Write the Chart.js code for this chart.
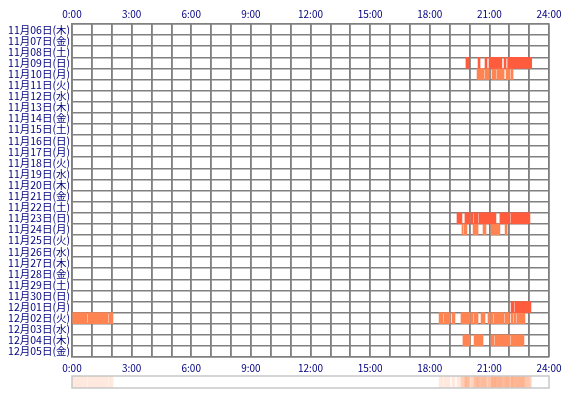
<!DOCTYPE html>
<html><head><meta charset="utf-8">
<script src="https://cdn.jsdelivr.net/npm/chart.js@4"></script>
<style>body{margin:0;background:#fff}#wrap{position:relative;width:570px;height:400px}
#c1{position:absolute;left:0;top:0}#c2{position:absolute;left:0;top:370px}</style></head>
<body><div id="wrap"><canvas id="c1" width="570" height="376"></canvas><canvas id="c2" width="570" height="24"></canvas></div>
<script>
const days=["11月06日(木)","11月07日(金)","11月08日(土)","11月09日(日)","11月10日(月)","11月11日(火)","11月12日(水)","11月13日(木)","11月14日(金)","11月15日(土)","11月16日(日)","11月17日(月)","11月18日(火)","11月19日(水)","11月20日(木)","11月21日(金)","11月22日(土)","11月23日(日)","11月24日(月)","11月25日(火)","11月26日(水)","11月27日(木)","11月28日(金)","11月29日(土)","11月30日(日)","12月01日(月)","12月02日(火)","12月03日(水)","12月04日(木)","12月05日(金)"];
// sessions: [day index, start hour, end hour]
const dark=[
[3,19.82,19.97],[3,20.43,20.53],[3,20.78,20.88],[3,20.98,21.63],[3,21.74,21.84],[3,21.92,23.13],
[17,19.37,19.62],[17,19.77,20.03],[17,20.08,20.18],[17,20.23,20.43],[17,20.48,21.33],[17,21.53,22.04],[17,22.09,23.04],
[25,22.09,22.24],[25,22.29,23.09]];
const light=[
[4,20.38,20.73],[4,20.78,21.0],[4,21.13,21.33],[4,21.38,21.74],[4,21.84,22.04],[4,22.09,22.19],
[18,19.62,19.67],[18,19.72,19.87],[18,20.18,20.43],[18,20.68,20.83],[18,21.08,21.53],[18,21.79,21.89],
[26,0,0.75],[26,0.8,1.81],[26,1.86,2.06],
[26,18.47,18.67],[26,18.72,19.02],[26,19.12,19.27],[26,19.57,20.03],[26,20.08,20.18],[26,20.23,20.43],[26,20.58,20.78],[26,20.93,21.03],[26,21.08,21.18],[26,21.23,21.74],[26,21.79,21.99],[26,22.09,22.19],[26,22.24,22.34],[26,22.39,22.79],
[28,19.67,20.03],[28,20.23,20.68],[28,21.08,21.23],[28,21.28,22.04],[28,22.09,22.74]];
const hourTicks=["0:00","3:00","6:00","9:00","12:00","15:00","18:00","21:00","24:00"];
const font={family:"'Noto Sans CJK JP', sans-serif",size:10};
const tick=v=>v%3===0?hourTicks[v/3]:'';
const toPts=a=>a.map(s=>({y:days[s[0]],x:[s[1],s[2]]}));
const xAx=(pos)=>({type:'linear',position:pos,min:0,max:24,
  ticks:{stepSize:1,autoSkip:false,maxRotation:0,color:'#000080',font,padding:pos==='top'?4:5,callback:tick},
  grid:{color:'#808080',lineWidth:1.6,drawTicks:false},border:{color:'#808080',width:1.6},
  afterFit(s){s.height=pos==='top'?24:19;}});
new Chart(document.getElementById('c1'),{type:'bar',
 data:{labels:days,datasets:[
  {data:toPts(dark),backgroundColor:'#ff5c3e',barPercentage:1,categoryPercentage:1,grouped:false},
  {data:toPts(light),backgroundColor:'#ff8452',barPercentage:1,categoryPercentage:1,grouped:false}]},
 options:{indexAxis:'y',responsive:false,animation:false,
  layout:{padding:{left:0,right:21,top:0,bottom:0}},
  plugins:{legend:{display:false},tooltip:{enabled:false}},
  scales:{x:xAx('top'),x2:xAx('bottom'),
   y:{ticks:{color:'#000080',font:{family:font.family,size:10.5},padding:2,autoSkip:false},grid:{color:'#808080',lineWidth:1.6,drawTicks:false,offset:true},border:{color:'#808080',width:1.6},
    afterFit(s){s.width=72;}}}}});
const all=dark.concat(light);
new Chart(document.getElementById('c2'),{type:'bar',
 data:{labels:['s'],datasets:[{data:all.map(s=>({y:'s',x:[s[1],s[2]]})),backgroundColor:'rgba(255,150,100,0.22)',barPercentage:1,categoryPercentage:1,grouped:false}]},
 options:{indexAxis:'y',responsive:false,animation:false,layout:{padding:{left:72,right:21,top:6,bottom:6}},
  plugins:{legend:{display:false},tooltip:{enabled:false}},
  scales:{x:{type:'linear',min:0,max:24,display:false},y:{display:false}}},
 plugins:[{id:'box',afterDraw(c){const a=c.chartArea,g=c.ctx;g.strokeStyle='#c8c8c8';g.lineWidth=1.5;g.strokeRect(a.left,a.top,a.right-a.left,a.bottom-a.top);}}]});
</script></body></html>
